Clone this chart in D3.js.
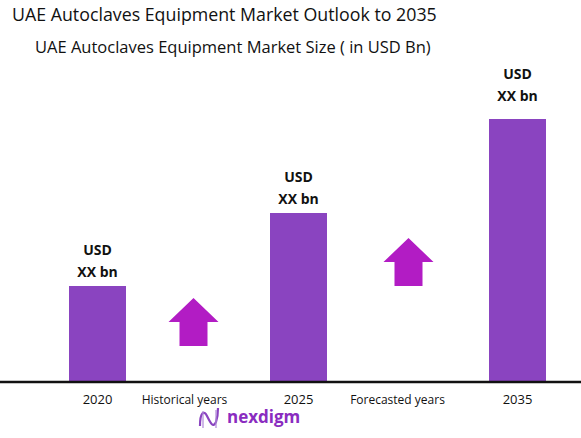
<!DOCTYPE html>
<html><head><meta charset="utf-8">
<script src="https://cdn.jsdelivr.net/npm/d3@7"></script>
<style>body{margin:0;background:#fff}svg{font-family:"Open Sans",sans-serif}</style>
</head><body>
<svg id="c" width="581" height="438"></svg>
<script>
const slots = ["2020","Historical years","2025","Forecasted years","2035"];
const years = ["2020","2025","2035"];
const values = [96, 169, 263];
const valueLabels = [["USD","XX bn"],["USD","XX bn"],["USD","XX bn"]];
const arrowSlots = ["Historical years","Forecasted years"];
const arrowBase = [36, 96];

const svg = d3.select("#c");
const x = d3.scaleBand().domain(slots).range([45,570]);
const y = d3.scaleLinear().domain([0,300]).range([382,82]);
const bw = 57;

svg.append("text").attr("x",12).attr("y",21).attr("font-size",17.8).attr("fill","#111")
  .text("UAE Autoclaves Equipment Market Outlook to 2035");
svg.append("text").attr("x",35).attr("y",53).attr("font-size",16.5).attr("fill","#111")
  .text("UAE Autoclaves Equipment Market Size  ( in USD Bn)");

years.forEach((yr,i)=>{
  const cx = x(yr)+x.bandwidth()/2 + (yr==="2025"?-9:0);
  const off = yr==="2035" ? 40 : 31;
  svg.append("rect").attr("x",cx-bw/2).attr("y",y(values[i])).attr("width",bw)
    .attr("height",y(0)-y(values[i])).attr("fill","#8a44c0");
  valueLabels[i].forEach((t,j)=>svg.append("text").attr("x",cx).attr("y",y(values[i])-off+j*22)
    .attr("text-anchor","middle").attr("font-size",14).attr("font-weight","bold").attr("fill","#111").text(t));
});

svg.append("line").attr("x1",0).attr("x2",581).attr("y1",y(0)).attr("y2",y(0))
  .attr("stroke","#111").attr("stroke-width",2.5);

slots.forEach(s=>{
  const cx = x(s)+x.bandwidth()/2 + (s==="2025"?-9:0) + (s==="Historical years"?-18:0)+(s==="Forecasted years"?-15:0);
  svg.append("text").attr("x",cx).attr("y",404).attr("text-anchor","middle")
    .attr("font-size",years.includes(s)?13:12).attr("fill","#111").text(s);
});

arrowSlots.forEach((s,i)=>{
  const cx = x(s)+x.bandwidth()/2 + (i===0?-9:-4);
  const bot = y(arrowBase[i]), top = bot-48;
  const p = [[cx,top],[cx+25,top+24],[cx+14,top+24],[cx+14,bot],[cx-14,bot],[cx-14,top+24],[cx-25,top+24]];
  svg.append("path").attr("d",d3.line()(p)+"Z").attr("fill","#b21cc4");
});

// logo
const g = svg.append("g").attr("transform","translate(198,408)");
g.append("path").attr("d","M2,18 C2,4 6,2 9,8 C13,16 15,20 18,14 C20,8 20,2 20,0")
  .attr("fill","none").attr("stroke","#8a44c0").attr("stroke-width",2.2);
g.append("path").attr("d","M5,20 L5,3 M18,20 L18,2").attr("stroke","#b08ad8").attr("stroke-width",1.2);
g.append("text").attr("x",29).attr("y",15).attr("font-size",17).attr("font-weight","bold")
  .attr("fill","#8a2cc0").text("nexdigm");
</script>
</body></html>
